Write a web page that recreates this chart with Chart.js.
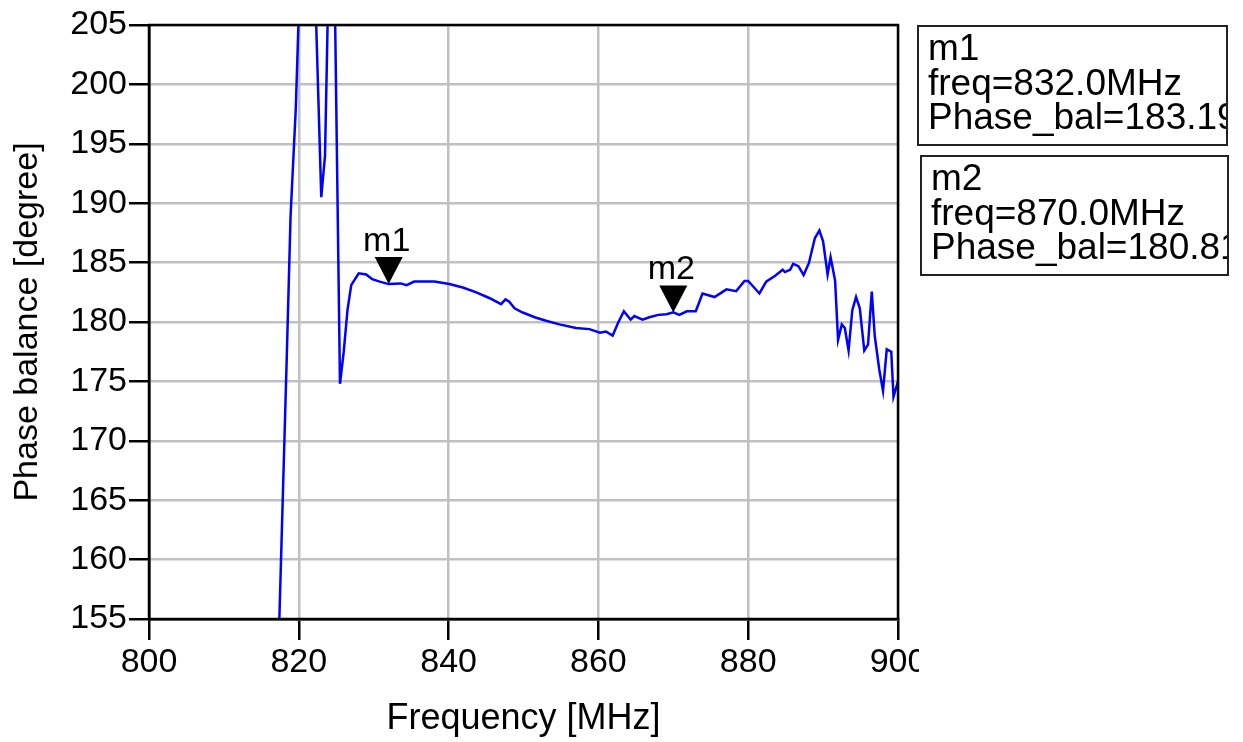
<!DOCTYPE html>
<html>
<head>
<meta charset="utf-8">
<script src="https://cdn.jsdelivr.net/npm/chart.js@4.4.1/dist/chart.umd.min.js"></script>
<style>
  body { margin: 0; background: #fff; }
  #wrap { position: relative; width: 1243px; height: 742px; overflow: hidden; font-family: "Liberation Sans", Arial, sans-serif; }
  #plot { position: absolute; left: 0; top: 0; }
  .mbox {
    position: absolute; border: 2px solid #222;
    overflow: hidden; white-space: nowrap; font-size: 37px; line-height: 34.5px;
    padding: 4px 0 0 9px; box-sizing: border-box; color: #000;
  }
</style>
</head>
<body>
<div id="wrap">
  <canvas id="plot" width="919" height="742"></canvas>
  <div class="mbox" id="box1" style="left:917px;top:25px;width:311px;height:121px;"></div>
  <div class="mbox" id="box2" style="left:920px;top:155px;width:309px;height:121px;"></div>
</div>
<script>
// frequency [MHz] and phase balance [degree]
const freqs = [
  817.0, 818.4, 818.9, 819.6, 820.0, 820.5, 821.5, 822.0, 823.0, 823.5,
  824.0, 824.5, 825.5, 826.0, 826.5, 827.0, 828.0, 829.0, 829.8, 830.8,
  832.0, 833.6, 834.4, 835.4, 837.0, 838.1, 840.1, 841.9, 843.7, 845.5,
  847.0, 847.6, 848.1, 848.8, 849.9, 851.5, 853.0, 854.8, 857.0, 858.8,
  860.2, 861.0, 861.9, 862.6, 863.4, 864.3, 864.8, 865.9, 866.8, 868.0,
  869.1, 870.0, 870.8, 871.8, 873.0, 873.9, 875.5, 877.1, 878.4, 879.5,
  880.0, 881.5, 882.4, 883.6, 884.6, 884.9, 885.6, 886.0, 886.7, 887.4,
  888.1, 888.9, 889.5, 890.0, 890.6, 891.0, 891.6, 892.0, 892.5, 892.9,
  893.4, 893.9, 894.4, 894.9, 895.5, 896.0, 896.5, 896.9, 897.5, 898.0,
  898.5, 899.1, 899.4, 900.0
];
const phaseBal = [
  146, 177.2, 188.9, 198, 206, 214, 218, 212, 190.5, 194,
  210, 222, 174.8, 177.5, 181, 183.1, 184.1, 184.0, 183.6, 183.4,
  183.19, 183.25, 183.1, 183.4, 183.4, 183.4, 183.2, 182.9, 182.5, 182.0,
  181.5, 181.9, 181.7, 181.15, 180.8, 180.4, 180.1, 179.8, 179.5, 179.4,
  179.1, 179.2, 178.85, 179.9, 180.9, 180.2, 180.5, 180.2, 180.4, 180.6,
  180.65, 180.81, 180.6, 180.9, 180.9, 182.4, 182.1, 182.75, 182.6, 183.45,
  183.45, 182.4, 183.4, 183.9, 184.4, 184.2, 184.4, 184.9, 184.7, 183.95,
  184.95, 187.05, 187.7, 186.8, 184.0, 185.45, 183.5, 178.5, 179.8, 179.5,
  177.6, 181.0, 182.1, 181.15, 177.6, 178.1, 182.55, 178.8, 176.0, 174.2,
  177.7, 177.5, 173.7, 175.0
];

// markers
const markerNames = ['m1', 'm2'];
const markerFreqs = [832.0, 870.0];
const markerValues = [183.19, 180.81];

const FONT = '"Liberation Sans", Arial, sans-serif';

// marker readout boxes on the right
markerNames.forEach((name, i) => {
  const box = document.getElementById('box' + (i + 1));
  box.innerHTML = name + '<br>freq=' + markerFreqs[i].toFixed(1) + 'MHz<br>Phase_bal=' + markerValues[i].toFixed(2);
});

const points = freqs.map((f, i) => ({ x: f, y: phaseBal[i] }));

// triangles + names of the markers, and the black frame round the plot
const markerPlugin = {
  id: 'markers',
  afterDatasetsDraw(chart) {
    const { ctx, chartArea, scales: { x, y } } = chart;
    ctx.save();
    ctx.strokeStyle = '#000';
    ctx.lineWidth = 2.5;
    ctx.strokeRect(chartArea.left, chartArea.top, chartArea.right - chartArea.left, chartArea.bottom - chartArea.top);

    markerNames.forEach((name, i) => {
      const px = x.getPixelForValue(markerFreqs[i]);
      const py = y.getPixelForValue(markerValues[i]);
      ctx.fillStyle = '#000';
      ctx.beginPath();
      ctx.moveTo(px - 14, py - 27);
      ctx.lineTo(px + 14, py - 27);
      ctx.lineTo(px, py);
      ctx.closePath();
      ctx.fill();
      ctx.font = '34px ' + FONT;
      ctx.textAlign = 'center';
      ctx.textBaseline = 'alphabetic';
      ctx.fillText(name, px - 2, py - 33);
    });
    ctx.restore();
  }
};

new Chart(document.getElementById('plot').getContext('2d'), {
  type: 'line',
  data: {
    datasets: [{
      label: 'Phase_bal',
      data: points,
      borderColor: '#0000ff',
      borderWidth: 2.5,
      pointRadius: 0,
      tension: 0,
      fill: false,
    }]
  },
  options: {
    responsive: false,
    animation: false,
    layout: { padding: { top: 25, right: 21, left: 0, bottom: 0 } },
    plugins: {
      legend: { display: false },
      tooltip: { enabled: false },
    },
    scales: {
      x: {
        type: 'linear',
        min: 800,
        max: 900,
        afterFit(scale) {
          scale.height = 123;
          scale.paddingLeft = 0;
          scale.paddingRight = 0;
        },
        ticks: { stepSize: 20, color: '#000', font: { family: FONT, size: 34 }, padding: 2, maxRotation: 0 },
        grid: { color: '#c0c0c0', lineWidth: 2.5, tickColor: '#000', tickLength: 21, tickWidth: 2.5 },
        border: { color: '#000', width: 2.5 },
        title: { display: true, text: 'Frequency [MHz]', color: '#000', font: { family: FONT, size: 36 }, padding: { top: 0, bottom: 1 } },
      },
      y: {
        min: 155,
        max: 205,
        afterFit(scale) {
          scale.width = 149;
        },
        ticks: { stepSize: 5, color: '#000', font: { family: FONT, size: 34 }, padding: 2 },
        grid: { color: '#c0c0c0', lineWidth: 2.5, tickColor: '#000', tickLength: 20, tickWidth: 2.5 },
        border: { color: '#000', width: 2.5 },
        title: { display: true, text: 'Phase balance [degree]', color: '#000', font: { family: FONT, size: 34 }, padding: { top: 7, bottom: 0 } },
      }
    }
  },
  plugins: [markerPlugin]
});
</script>
</body>
</html>
